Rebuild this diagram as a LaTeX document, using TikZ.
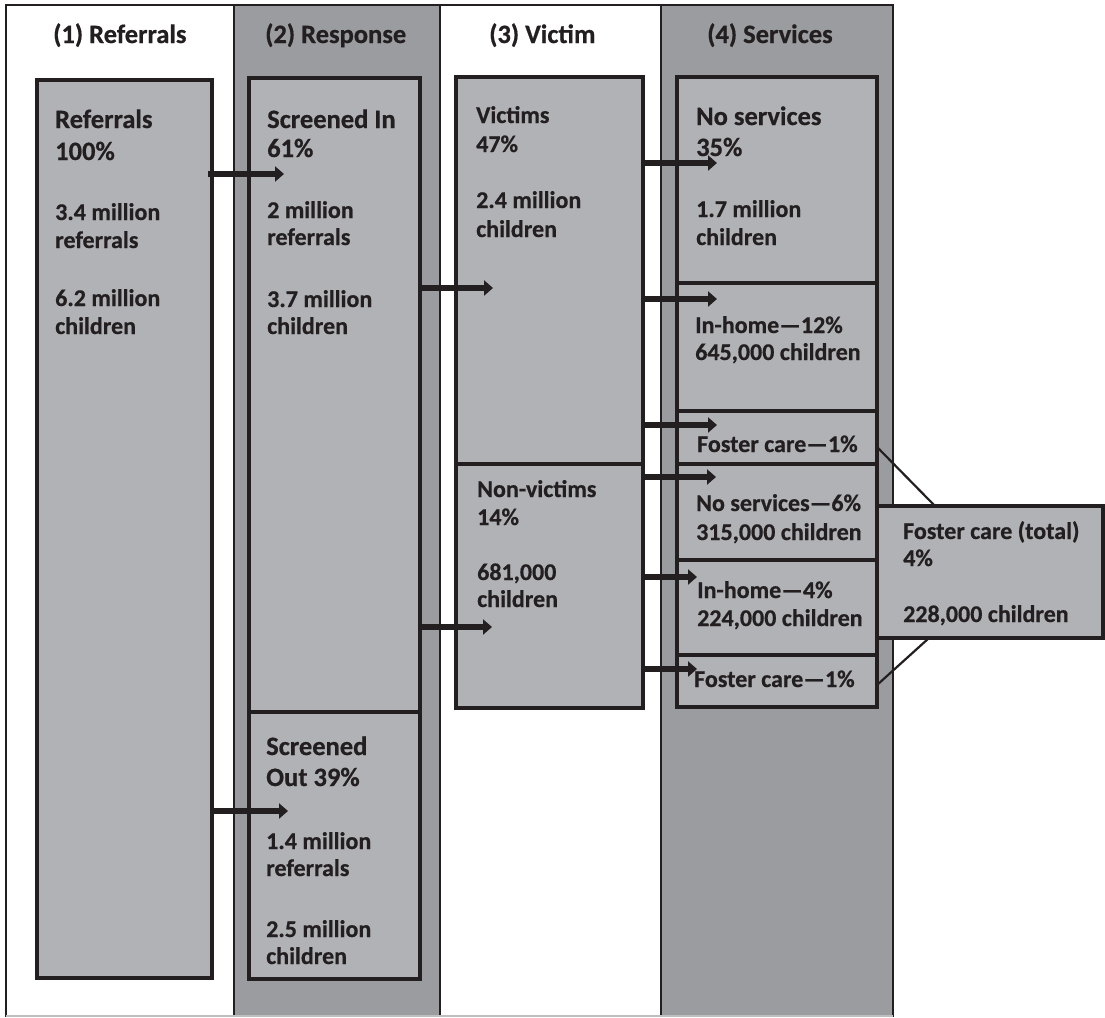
\documentclass[tikz,border=0pt]{standalone}
\usepackage{fontspec}
\setmainfont{Carlito}[BoldFeatures={FakeBold=0.6}]
\usetikzlibrary{arrows.meta}
\definecolor{boxfill}{HTML}{B1B2B6}
\definecolor{colfill}{HTML}{9B9CA0}
\definecolor{ink}{HTML}{231F20}
\begin{document}
\begin{tikzpicture}[x=1pt,y=-1pt,
 box/.style={draw=ink, fill=boxfill, line width=3.5pt, anchor=north west, inner sep=0pt, outer sep=0pt},
 colline/.style={draw=ink, line width=2pt},
 big/.style={anchor=base west, inner sep=0pt, text=ink, font=\fontsize{26.5}{30}\selectfont\bfseries},
 txt/.style={anchor=base west, inner sep=0pt, text=ink, font=\fontsize{24}{28}\selectfont\bfseries},
 arr/.style={draw=ink, line width=6pt, -{Triangle[length=9pt,width=15pt]}},
 link/.style={draw=ink, line width=2.2pt}]
\useasboundingbox (0,0) rectangle (1105,1017);
\fill[white] (0,0) rectangle (1105,1017);
% columns
\fill[colfill] (234,5) rectangle (440,1017);
\fill[colfill] (661,5) rectangle (893,1017);
\draw[colline] (6,1017) -- (6,5) -- (893,5) -- (893,1017);
\draw[colline] (234,5) -- (234,1017);
\draw[colline] (440,5) -- (440,1017);
\draw[colline] (661,5) -- (661,1017);
\draw[black!25, line width=1.5pt] (6,1016) -- (893,1016);
% headers
\node[big] (h1) at (53,43) {(1) Referrals};
\node[big] (h2) at (265,43) {(2) Response};
\node[big] (h3) at (489,43) {(3) Victim};
\node[big] (h4) at (707,43) {(4) Services};
% boxes
\node[box, minimum width=175pt, minimum height=898pt] (ref) at (37,80) {};
\node[box, minimum width=171pt, minimum height=634pt] (sin) at (249,78) {};
\node[box, minimum width=171pt, minimum height=267pt] (sout) at (249,712) {};
\node[box, minimum width=187pt, minimum height=387pt] (vic) at (456,77) {};
\node[box, minimum width=187pt, minimum height=244pt] (nvic) at (456,464) {};
\node[box, minimum width=200pt, minimum height=206pt] (ns) at (677,77) {};
\node[box, minimum width=200pt, minimum height=128pt] (ih) at (677,283) {};
\node[box, minimum width=200pt, minimum height=53pt] (fc) at (677,411) {};
\node[box, minimum width=200pt, minimum height=96pt] (ns6) at (677,464) {};
\node[box, minimum width=200pt, minimum height=95pt] (ih4) at (677,560) {};
\node[box, minimum width=200pt, minimum height=52pt] (fc1) at (677,655) {};
\node[box, minimum width=226pt, minimum height=132pt] (fct) at (877,506) {};
% arrow end points
\coordinate (t1) at (284,174);
\coordinate (t2) at (493,288);
\coordinate (t3) at (288,811);
\coordinate (t4) at (492,627);
\coordinate (t5) at (717,163);
\coordinate (t6) at (717,299);
\coordinate (t7) at (717,425);
\coordinate (t8) at (716,477);
\coordinate (t9) at (697,577);
\coordinate (t10) at (697,669);
\draw[arr] ([xshift=-4pt]ref.east |- t1) -- (t1);
\draw[arr] (sin.east |- t2) -- (t2);
\draw[arr] (ref.east |- t3) -- (t3);
\draw[arr] (sin.east |- t4) -- (t4);
\draw[arr] (vic.east |- t5) -- (t5);
\draw[arr] (vic.east |- t6) -- (t6);
\draw[arr] (vic.east |- t7) -- (t7);
\draw[arr] (nvic.east |- t8) -- (t8);
\draw[arr] (nvic.east |- t9) -- (t9);
\draw[arr] (nvic.east |- t10) -- (t10);
% links to foster total
\coordinate (l1a) at (877,447);
\coordinate (l1b) at (935,506);
\coordinate (l2a) at (877,685);
\coordinate (l2b) at (929,638);
\draw[link] (fc.east |- l1a) -- (fct.north -| l1b);
\draw[link] (fc1.east |- l2a) -- (fct.south -| l2b);
% texts
\node[big] (r1) at (55,128) {Referrals};
\node[big] (r2) at (55,160) {100\%};
\node[txt] (r3) at (55,220) {3.4 million};
\node[txt] (r4) at (55,248) {referrals};
\node[txt] (r5) at (55,306) {6.2 million};
\node[txt] (r6) at (55,334) {children};
\node[big] (s1) at (267,128) {Screened In};
\node[big] (s2) at (267,157) {61\%};
\node[txt] (s3) at (267,218) {2 million};
\node[txt] (s4) at (267,245) {referrals};
\node[txt] (s5) at (267,307) {3.7 million};
\node[txt] (s6) at (267,334) {children};
\node[big] (o1) at (266,755) {Screened};
\node[big] (o2) at (266,786) {Out 39\%};
\node[txt] (o3) at (266,849) {1.4 million};
\node[txt] (o4) at (266,876) {referrals};
\node[txt] (o5) at (266,937) {2.5 million};
\node[txt] (o6) at (266,964) {children};
\node[txt] (v1) at (476,123) {Victims};
\node[txt] (v2) at (476,152) {47\%};
\node[txt] (v3) at (476,208) {2.4 million};
\node[txt] (v4) at (476,237) {children};
\node[txt] (n1) at (477,497) {Non-victims};
\node[txt] (n2) at (477,525) {14\%};
\node[txt] (n3) at (477,580) {681,000};
\node[txt] (n4) at (477,607) {children};
\node[big] (a1) at (696,125) {No services};
\node[big] (a2) at (696,156) {35\%};
\node[txt] (a3) at (696,217) {1.7 million};
\node[txt] (a4) at (696,245) {children};
\node[txt] (b1) at (695,333) {In-home—12\%};
\node[txt] (b2) at (695,360) {645,000 children};
\node[txt] (c1) at (697,452) {Foster care—1\%};
\node[txt] (d1) at (696,511) {No services—6\%};
\node[txt] (d2) at (696,540) {315,000 children};
\node[txt] (e1) at (697,598) {In-home—4\%};
\node[txt] (e2) at (697,626) {224,000 children};
\node[txt] (f1) at (694,687) {Foster care—1\%};
\node[txt] (g1) at (903,539) {Foster care (total)};
\node[txt] (g2) at (903,566) {4\%};
\node[txt] (g3) at (903,622) {228,000 children};
\end{tikzpicture}
\end{document}
